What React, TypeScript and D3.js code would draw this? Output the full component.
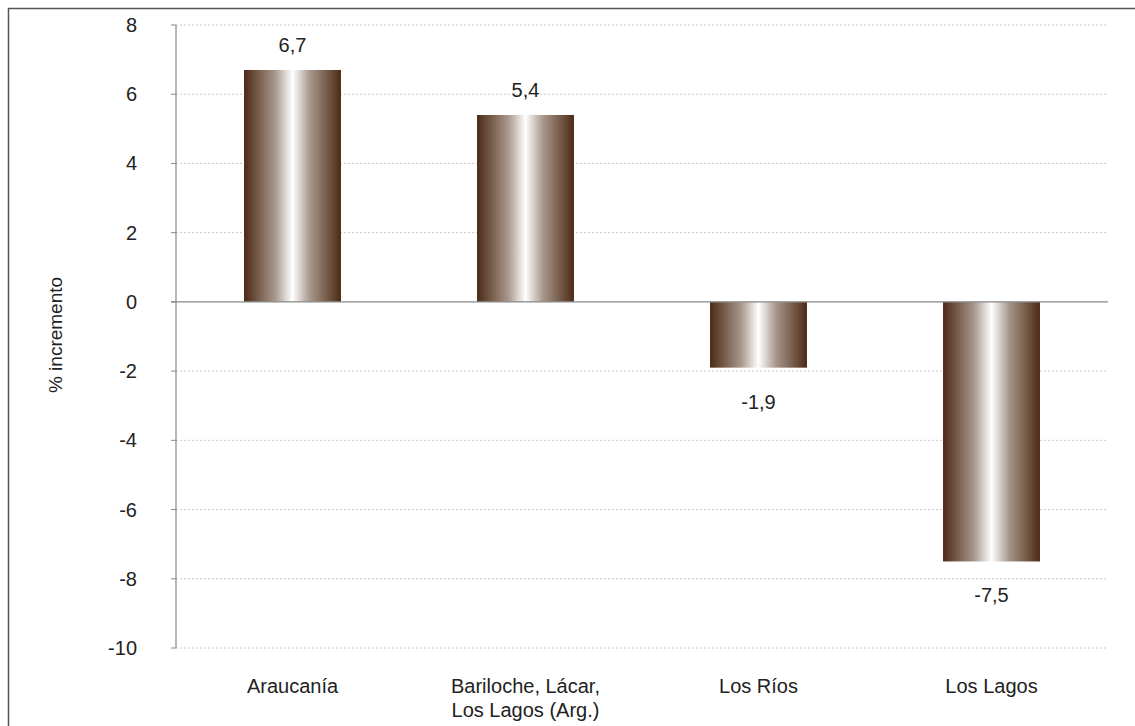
import React from "react";
import * as d3 from "d3";

const categories: string[][] = [
  ["Araucanía"],
  ["Bariloche, Lácar,", "Los Lagos (Arg.)"],
  ["Los Ríos"],
  ["Los Lagos"],
];
const values: number[] = [6.7, 5.4, -1.9, -7.5];
const valueLabels: string[] = ["6,7", "5,4", "-1,9", "-7,5"];
const yTicks: number[] = [8, 6, 4, 2, 0, -2, -4, -6, -8, -10];
const yTitle = "% incremento";

const W = 1135;
const H = 726;
const left = 176;
const right = 1108;
const top = 25;
const bottom = 648;
const font = "Arial, 'Liberation Sans', Helvetica, sans-serif";
const fs = 20;

export default function App() {
  const x = d3
    .scaleBand<number>()
    .domain(values.map((_, i) => i))
    .range([left, right])
    .paddingInner(0.584)
    .paddingOuter(0.292);
  const y = d3.scaleLinear().domain([-10, 8]).range([bottom, top]);
  const y0 = y(0);

  return (
    <svg
      width={W}
      height={H}
      style={{ position: "absolute", left: 0, top: 0, background: "#fff" }}
      fontFamily={font}
    >
      <defs>
        <linearGradient id="barGrad" x1="0" x2="1" y1="0" y2="0">
          <stop offset="0%" stopColor="#4b2a16" />
          <stop offset="12%" stopColor="#6f5341" />
          <stop offset="32%" stopColor="#a8978c" />
          <stop offset="50%" stopColor="#ffffff" />
          <stop offset="68%" stopColor="#a8978c" />
          <stop offset="88%" stopColor="#6f5341" />
          <stop offset="100%" stopColor="#4b2a16" />
        </linearGradient>
      </defs>
      <rect x={0} y={0} width={W} height={H} fill="#fff" />
      <rect
        x={8.5}
        y={8.5}
        width={W + 20}
        height={H + 20}
        fill="none"
        stroke="#555"
        strokeWidth={1.5}
      />
      {yTicks
        .filter((t) => t !== 0)
        .map((t) => (
          <line
            key={"g" + t}
            x1={left}
            x2={right}
            y1={y(t)}
            y2={y(t)}
            stroke="#c8c8c8"
            strokeWidth={1}
            strokeDasharray="2,2"
          />
        ))}
      {yTicks.map((t) => (
        <g key={"t" + t}>
          <line x1={left - 5} x2={left} y1={y(t)} y2={y(t)} stroke="#888" />
          <text
            x={137}
            y={y(t)}
            dy="0.35em"
            textAnchor="end"
            fontSize={fs}
            fill="#222"
          >
            {t}
          </text>
        </g>
      ))}
      <text
        transform={`translate(62, 335) rotate(-90)`}
        textAnchor="middle"
        fontSize={19}
        fill="#222"
      >
        {yTitle}
      </text>
      {values.map((v, i) => {
        const bx = x(i)!;
        const yt = Math.min(y(v), y0);
        const h = Math.abs(y(v) - y0);
        return (
          <g key={"b" + i}>
            <rect x={bx} y={yt} width={x.bandwidth()} height={h} fill="url(#barGrad)" />
            <text
              x={bx + x.bandwidth() / 2}
              y={v >= 0 ? y(v) - 18 : y(v) + 41}
              textAnchor="middle"
              fontSize={fs}
              fill="#222"
            >
              {valueLabels[i]}
            </text>
          </g>
        );
      })}
      <line x1={left} x2={left} y1={top} y2={bottom} stroke="#888" strokeWidth={1.2} />
      <line x1={left - 5} x2={right} y1={y0} y2={y0} stroke="#888" strokeWidth={1.2} />
      {categories.map((lines, i) => (
        <text
          key={"c" + i}
          x={x(i)! + x.bandwidth() / 2}
          y={693}
          textAnchor="middle"
          fontSize={fs}
          fill="#222"
        >
          {lines.map((l, j) => (
            <tspan key={j} x={x(i)! + x.bandwidth() / 2} dy={j === 0 ? 0 : 24}>
              {l}
            </tspan>
          ))}
        </text>
      ))}
    </svg>
  );
}
